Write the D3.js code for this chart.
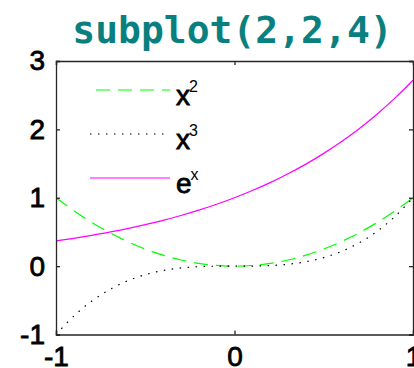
<!DOCTYPE html>
<html>
<head>
<meta charset="utf-8">
<script src="https://cdn.jsdelivr.net/npm/d3@7"></script>
<style>
  html, body { margin: 0; padding: 0; background: #fff; overflow: hidden; }
  svg { display: block; }
</style>
</head>
<body>
<svg id="chart" width="414" height="368"></svg>
<script>
// Sample points on [-1, 1]
const xs = [-1.0, -0.9, -0.8, -0.7, -0.6, -0.5, -0.4, -0.3, -0.2, -0.1, 0.0,
             0.1, 0.2, 0.3, 0.4, 0.5, 0.6, 0.7, 0.8, 0.9, 1.0];
const square = [1.00, 0.81, 0.64, 0.49, 0.36, 0.25, 0.16, 0.09, 0.04, 0.01, 0.00,
                0.01, 0.04, 0.09, 0.16, 0.25, 0.36, 0.49, 0.64, 0.81, 1.00];
const cube = [-1.000, -0.729, -0.512, -0.343, -0.216, -0.125, -0.064, -0.027, -0.008, -0.001, 0.000,
               0.001, 0.008, 0.027, 0.064, 0.125, 0.216, 0.343, 0.512, 0.729, 1.000];
const expo = [0.368, 0.407, 0.449, 0.497, 0.549, 0.607, 0.670, 0.741, 0.819, 0.905, 1.000,
              1.105, 1.221, 1.350, 1.492, 1.649, 1.822, 2.014, 2.226, 2.460, 2.718];
const xTicks = [-1, 0, 1];
const yTicks = [-1, 0, 1, 2, 3];
const titleText = "subplot(2,2,4)";

const series = [
  { base: "x", sup: "2", values: square, color: "#00ff00", dash: "14,8" },
  { base: "x", sup: "3", values: cube,   color: "#000000", dash: "1.5,6.5" },
  { base: "e", sup: "x", values: expo,   color: "#ff00ff", dash: null }
];

const svg = d3.select("#chart");
const plotLeft = 56, plotRight = 413, plotTop = 61, plotBottom = 334.5;

const x = d3.scaleLinear().domain([-1, 1]).range([plotLeft, plotRight]);
const y = d3.scaleLinear().domain([-1, 3]).range([plotBottom, plotTop]);

// Title
svg.append("text")
  .attr("x", (plotLeft + plotRight) / 2 - 2)
  .attr("y", 43)
  .attr("text-anchor", "middle")
  .attr("font-family", "DejaVu Sans Mono")
  .attr("font-weight", "bold")
  .attr("font-size", 38)
  .attr("fill", "#0a7f7f")
  .text(titleText);

// Curves
const line = d3.line()
  .x((d, i) => x(xs[i]))
  .y(d => y(d))
  .curve(d3.curveCatmullRom);

const plot = svg.append("g");
series.forEach(s => {
  plot.append("path")
    .attr("d", line(s.values))
    .attr("fill", "none")
    .attr("stroke", s.color)
    .attr("stroke-width", 1.2)
    .attr("stroke-dasharray", s.dash);
});

// Axes box with inward ticks on all four sides
const tickLen = 4;
const axisColor = "#262626";
const plainNumber = d => String(d);
const axes = svg.append("g");

axes.append("g")
  .attr("transform", `translate(0,${plotBottom})`)
  .call(d3.axisBottom(x).tickValues(xTicks).tickSize(-tickLen).tickPadding(12).tickFormat(plainNumber));
axes.append("g")
  .attr("transform", `translate(0,${plotTop})`)
  .call(d3.axisTop(x).tickValues(xTicks).tickSize(-tickLen).tickFormat(""));
axes.append("g")
  .attr("transform", `translate(${plotLeft},0)`)
  .call(d3.axisLeft(y).tickValues(yTicks).tickSize(-tickLen).tickPadding(11).tickFormat(plainNumber));
axes.append("g")
  .attr("transform", `translate(${plotRight},0)`)
  .call(d3.axisRight(y).tickValues(yTicks).tickSize(-tickLen).tickFormat(""));

axes.selectAll(".domain").attr("stroke", axisColor).attr("stroke-width", 1.3);
axes.selectAll(".tick line").attr("stroke", axisColor).attr("stroke-width", 1.3);
axes.selectAll(".tick text")
  .attr("font-family", "Liberation Sans, Arial, sans-serif")
  .attr("font-size", 28)
  .attr("fill", "#000")
  .attr("stroke", "#000")
  .attr("stroke-width", 0.8);

// Legend (no frame)
const legend = svg.append("g");
const legendRows = [
  { y: 90,  x1: 96, x2: 170 },
  { y: 134, x1: 90, x2: 165 },
  { y: 178, x1: 90, x2: 170 }
];
series.forEach((s, i) => {
  const r = legendRows[i];
  legend.append("line")
    .attr("x1", r.x1).attr("x2", r.x2)
    .attr("y1", r.y).attr("y2", r.y)
    .attr("stroke", s.color)
    .attr("stroke-width", 1.2)
    .attr("stroke-dasharray", s.dash);
  const t = legend.append("text")
    .attr("x", 176)
    .attr("y", r.y + 15)
    .attr("font-family", "Liberation Sans, Arial, sans-serif")
    .attr("font-size", 28)
    .attr("fill", "#000");
  t.append("tspan")
    .attr("stroke", "#000")
    .attr("stroke-width", 0.8)
    .text(s.base);
  t.append("tspan")
    .attr("dx", -1)
    .attr("dy", -13)
    .attr("font-size", 16)
    .text(s.sup);
});
</script>
</body>
</html>
